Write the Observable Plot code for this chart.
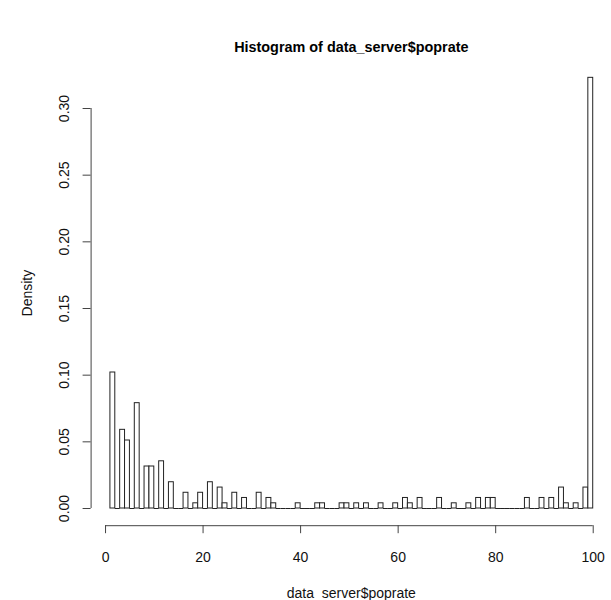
<!DOCTYPE html>
<html><head><meta charset="utf-8">
<script src="https://cdn.jsdelivr.net/npm/d3@7"></script>
<script src="https://cdn.jsdelivr.net/npm/@observablehq/plot@0.6"></script>
<style>body{margin:0;background:#fff}</style>
</head><body><div id="chart"></div>
<script>
// Histogram breaks: bins of width 1 from 1 to 100
const breaks = d3.range(1, 101);
// Density for each bin [breaks[i], breaks[i+1]]
const density = [
  0.102, 0, 0.059, 0.051, 0, 0.079, 0, 0.0315, 0.0315, 0,        // 1-10
  0.0354, 0, 0.0197, 0, 0, 0.0118, 0, 0.0039, 0.0118, 0,         // 11-20
  0.0197, 0, 0.0157, 0.0039, 0, 0.0118, 0, 0.0079, 0, 0,         // 21-30
  0.0118, 0, 0.0079, 0.0039, 0, 0, 0, 0, 0.0039, 0,              // 31-40
  0, 0, 0.0039, 0.0039, 0, 0, 0, 0.0039, 0.0039, 0,              // 41-50
  0.0039, 0, 0.0039, 0, 0, 0.0039, 0, 0, 0.0039, 0,              // 51-60
  0.0079, 0.0039, 0, 0.0079, 0, 0, 0, 0.0079, 0, 0,              // 61-70
  0.0039, 0, 0, 0.0039, 0, 0.0079, 0, 0.0079, 0.0079, 0,         // 71-80
  0, 0, 0, 0, 0, 0.0079, 0, 0, 0.0079, 0,                        // 81-90
  0.0079, 0, 0.0157, 0.0039, 0, 0.0039, 0, 0.0157, 0.323         // 91-99
];
const xTicks = [0, 20, 40, 60, 80, 100];
const yTicks = [0, 0.05, 0.10, 0.15, 0.20, 0.25, 0.30];
const titleText = "Histogram of data_server$poprate";
const xLabel = "data_server$poprate";
const yLabel = "Density";

const bins = density.map((d, i) => ({x0: breaks[i], x1: breaks[i + 1], density: d}));
const emptyBins = bins.filter(d => d.density === 0);
const xDomain = [-2.96, 103.75];
const yDomain = [-0.0129, 0.336];
const font = "'Liberation Sans', Arial, Helvetica, sans-serif";

const chart = Plot.plot({
  width: 611, height: 600,
  marginLeft: 90.6, marginRight: 0, marginTop: 60, marginBottom: 74.8,
  style: {fontFamily: font, fontSize: "14px", color: "#000", background: "#fff"},
  x: {domain: xDomain, axis: null},
  y: {domain: yDomain, axis: null},
  marks: [
    Plot.rect(bins, {x1: "x0", x2: "x1", y1: 0, y2: "density", fill: "white", stroke: "#222", strokeWidth: 1}),
    Plot.ruleY(emptyBins, {y: 0, x1: "x0", x2: "x1", stroke: "#222", strokeWidth: 1}),
    Plot.ruleY([yDomain[0]], {x1: xTicks[0], x2: xTicks[xTicks.length - 1], stroke: "#444"}),
    Plot.ruleX([xDomain[0]], {y1: yTicks[0], y2: yTicks[yTicks.length - 1], stroke: "#444"}),
    Plot.axisX({ticks: xTicks, tickSize: 8, tickPadding: 18, tickFormat: d => String(d), label: null, stroke: "#444", fill: "#111", fontSize: 14}),
    Plot.axisY({ticks: yTicks, tickSize: 8, tickPadding: 14.5, tickRotate: -90, tickFormat: d3.format(".2f"), label: null, stroke: "#444", fill: "#111", fontSize: 14}),
    Plot.text([titleText], {text: d => d, frameAnchor: "top", dy: -13, lineAnchor: "middle", textAnchor: "middle", fontWeight: "bold", fontSize: 14.4, fill: "#000"}),
    Plot.text([xLabel], {text: d => d, frameAnchor: "bottom", dy: 68, lineAnchor: "middle", textAnchor: "middle", fontSize: 14, fill: "#111"}),
    Plot.text([yLabel], {text: d => d, frameAnchor: "left", dx: -63.6, rotate: -90, lineAnchor: "middle", textAnchor: "middle", fontSize: 14, fill: "#111"})
  ]
});
document.getElementById("chart").appendChild(chart);
</script>
</body></html>
